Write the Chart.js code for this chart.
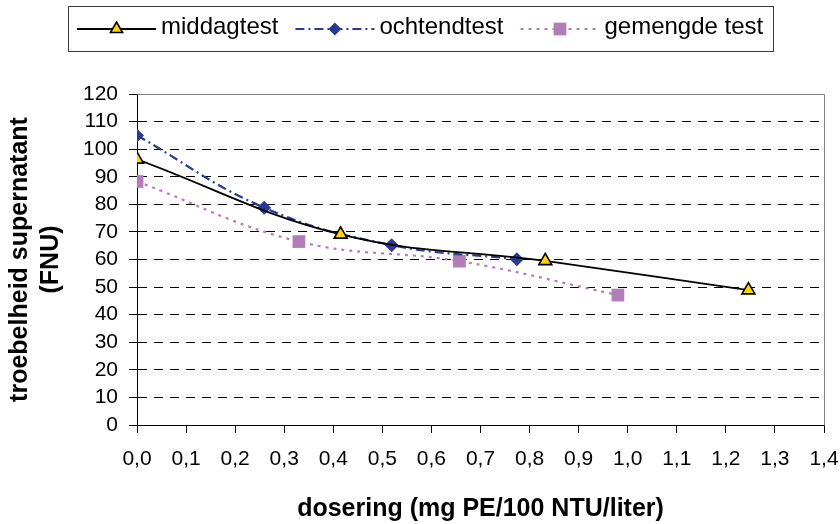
<!DOCTYPE html>
<html>
<head>
<meta charset="utf-8">
<script src="https://cdn.jsdelivr.net/npm/chart.js@4.4.1/dist/chart.umd.min.js"></script>
<style>
  html, body { margin: 0; padding: 0; background: #ffffff; }
  #wrap { width: 840px; height: 524px; }
</style>
</head>
<body>
<div id="wrap"><canvas id="chart" width="840" height="524"></canvas></div>
<script>
// Troebelheid van het supernatant bij oplopende PE-dosering, drie testseries
const seriesNames = ['middagtest', 'ochtendtest', 'gemengde test'];

const middagDose = [0, 0.415, 0.832, 1.246];
const middagTurb = [96.3, 69.1, 59.5, 48.9];

const ochtendDose = [0, 0.259, 0.519, 0.774];
const ochtendTurb = [105.0, 78.8, 65.2, 60.1];

const gemengdDose = [0, 0.330, 0.657, 0.980];
const gemengdTurb = [88.3, 66.5, 59.4, 47.1];

const xTickLabels = ['0,0', '0,1', '0,2', '0,3', '0,4', '0,5', '0,6', '0,7',
                     '0,8', '0,9', '1,0', '1,1', '1,2', '1,3', '1,4'];
const yTickLabels = ['0', '10', '20', '30', '40', '50', '60', '70', '80',
                     '90', '100', '110', '120'];

const xTitle = 'dosering (mg PE/100 NTU/liter)';
const yTitle = ['troebelheid supernatant', '(FNU)'];

const FONT = "'Liberation Sans', Arial, sans-serif";

function toPoints(xs, ys) {
  return xs.map((x, i) => ({ x: x, y: ys[i] }));
}

function drawMarker(ctx, style, cx, cy, r, fill, stroke, bw) {
  ctx.beginPath();
  if (style === 'triangle') {
    ctx.moveTo(cx, cy - r);
    ctx.lineTo(cx + r * 0.866, cy + r * 0.5);
    ctx.lineTo(cx - r * 0.866, cy + r * 0.5);
  } else if (style === 'rectRot') {
    ctx.moveTo(cx - r, cy);
    ctx.lineTo(cx, cy - r);
    ctx.lineTo(cx + r, cy);
    ctx.lineTo(cx, cy + r);
  } else {
    const s = r * Math.SQRT1_2;
    ctx.rect(cx - s, cy - s, 2 * s, 2 * s);
  }
  ctx.closePath();
  ctx.fillStyle = fill;
  ctx.fill();
  if (bw > 0) {
    ctx.lineWidth = bw;
    ctx.strokeStyle = stroke;
    ctx.stroke();
  }
}

// Legend in a framed box above the plot: line sample with marker, then the name
const boxedLegend = {
  id: 'boxedLegend',
  afterDraw(chart) {
    const ctx = chart.ctx;
    ctx.save();
    ctx.strokeStyle = '#3a3a3a';
    ctx.lineWidth = 1;
    ctx.setLineDash([]);
    ctx.strokeRect(68.5, 6.5, 705, 45);

    ctx.font = '24px ' + FONT;
    ctx.textBaseline = 'alphabetic';
    ctx.textAlign = 'left';
    let x = 77;
    const y = 29;
    chart.data.datasets.forEach(ds => {
      const w = 79;
      ctx.save();
      ctx.strokeStyle = ds.borderColor;
      ctx.lineWidth = ds.borderWidth;
      ctx.setLineDash(ds.borderDash || []);
      ctx.beginPath();
      ctx.moveTo(x, y);
      ctx.lineTo(x + w, y);
      ctx.stroke();
      ctx.setLineDash([]);
      drawMarker(ctx, ds.pointStyle, x + w / 2, y, ds.legendRadius,
                 ds.pointBackgroundColor, ds.pointBorderColor, ds.pointBorderWidth);
      ctx.restore();
      x += w + 5;
      ctx.fillStyle = '#000';
      ctx.fillText(ds.label, x, y + 5);
      x += ctx.measureText(ds.label).width + 17;
    });
    ctx.restore();
  }
};

// Grey frame on the top and right edge of the plot area
const plotFrame = {
  id: 'plotFrame',
  beforeDatasetsDraw(chart) {
    const { ctx, chartArea: a } = chart;
    ctx.save();
    ctx.strokeStyle = '#808080';
    ctx.lineWidth = 1;
    ctx.beginPath();
    ctx.moveTo(Math.round(a.left) + 0.5, Math.round(a.top) + 0.5);
    ctx.lineTo(Math.round(a.right) + 0.5, Math.round(a.top) + 0.5);
    ctx.lineTo(Math.round(a.right) + 0.5, Math.round(a.bottom) + 0.5);
    ctx.stroke();
    ctx.restore();
  }
};

new Chart(document.getElementById('chart'), {
  type: 'scatter',
  data: {
    datasets: [
      {
        label: seriesNames[0],
        data: toPoints(middagDose, middagTurb),
        showLine: true,
        borderColor: '#000000',
        borderWidth: 1.8,
        tension: 0.4,
        pointStyle: 'triangle',
        pointRadius: 7.5,
        legendRadius: 7,
        pointBackgroundColor: '#FFD400',
        pointBorderColor: '#000000',
        pointBorderWidth: 1.6,
        order: 1
      },
      {
        label: seriesNames[1],
        data: toPoints(ochtendDose, ochtendTurb),
        showLine: true,
        borderColor: '#2B3990',
        borderWidth: 2.2,
        borderDash: [9, 4, 2, 4],
        tension: 0.4,
        pointStyle: 'rectRot',
        pointRadius: 7,
        legendRadius: 6.5,
        pointBackgroundColor: '#2B3990',
        pointBorderColor: '#2B3990',
        pointBorderWidth: 0,
        order: 2
      },
      {
        label: seriesNames[2],
        data: toPoints(gemengdDose, gemengdTurb),
        showLine: true,
        borderColor: '#B27DB9',
        borderWidth: 2.2,
        borderDash: [3, 5],
        tension: 0.4,
        pointStyle: 'rect',
        pointRadius: 9,
        legendRadius: 9,
        pointBackgroundColor: '#B27DB9',
        pointBorderColor: '#B27DB9',
        pointBorderWidth: 0,
        order: 3
      }
    ]
  },
  options: {
    responsive: false,
    maintainAspectRatio: false,
    devicePixelRatio: 1,
    animation: false,
    layout: { padding: { top: 94, right: 16, bottom: 0, left: 0 } },
    plugins: {
      legend: { display: false },
      tooltip: { enabled: false }
    },
    scales: {
      x: {
        type: 'linear',
        min: 0,
        max: 1.4,
        afterFit(scale) {
          scale.height = 99;
          scale.paddingLeft = 0;
          scale.paddingRight = 0;
        },
        ticks: {
          stepSize: 0.1,
          padding: 14,
          color: '#000',
          font: { family: FONT, size: 21 },
          maxRotation: 0,
          autoSkip: false,
          callback: (v) => xTickLabels[Math.round(v * 10)]
        },
        grid: {
          drawOnChartArea: false,
          drawTicks: true,
          tickLength: 8,
          tickColor: '#000',
          tickWidth: 1
        },
        border: { display: true, color: '#000', width: 1 },
        title: {
          display: true,
          text: xTitle,
          color: '#000',
          font: { family: FONT, size: 25, weight: 'bold' },
          padding: { top: 0, bottom: 0 }
        }
      },
      y: {
        type: 'linear',
        min: 0,
        max: 120,
        afterFit(scale) {
          scale.width = 137;
          scale.paddingTop = 0;
          scale.paddingBottom = 0;
        },
        ticks: {
          stepSize: 10,
          padding: 11,
          color: '#000',
          autoSkip: false,
          font: { family: FONT, size: 21 },
          callback: (v) => yTickLabels[Math.round(v / 10)]
        },
        grid: {
          color: (c) => (c.tick && (c.tick.value === 0 || c.tick.value === 120)) ? 'rgba(0,0,0,0)' : '#000',
          lineWidth: 1,
          drawTicks: true,
          tickLength: 8,
          tickColor: '#000',
          tickWidth: 1,
          tickBorderDash: []
        },
        border: { display: true, color: '#000', width: 1, dash: [9, 7] },
        title: {
          display: true,
          text: yTitle,
          color: '#000',
          font: { family: FONT, size: 25, weight: 'bold', lineHeight: '31px' },
          padding: { top: 5, bottom: 0 }
        }
      }
    }
  },
  plugins: [plotFrame, boxedLegend]
});
</script>
</body>
</html>
